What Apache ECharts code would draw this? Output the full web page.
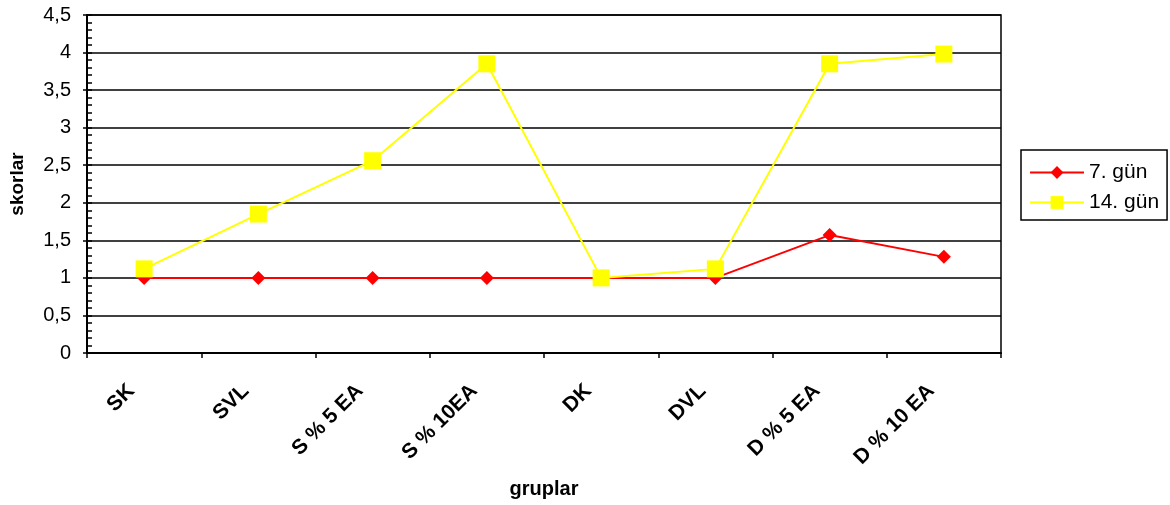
<!DOCTYPE html>
<html><head><meta charset="utf-8">
<script src="https://cdn.jsdelivr.net/npm/echarts@6/dist/echarts.min.js"></script>
<style>html,body{margin:0;padding:0;background:#fff}#c{width:1170px;height:505px}</style>
</head><body><div id="c"></div>
<script>
const categories = ['SK','SVL','S % 5 EA','S % 10EA','DK','DVL','D % 5 EA','D % 10 EA'];
const gun7 = [1, 1, 1, 1, 1, 1, 1.57, 1.28];
const gun14 = [1.12, 1.85, 2.56, 3.85, 1.0, 1.12, 3.85, 3.98];
const seriesNames = ['7. gün', '14. gün'];
const FONT = '"Liberation Sans", Arial, sans-serif';

const chart = echarts.init(document.getElementById('c'), null, {renderer:'canvas'});
const yBase = {type:'value', min:0, max:4.5, interval:0.5};
chart.setOption({
  animation:false,
  textStyle:{fontFamily:FONT, color:'#000'},
  grid:{left:87, right:169, top:15, bottom:152, show:true, borderColor:'#000', borderWidth:1.5, backgroundColor:'transparent'},
  legend:{
    orient:'vertical', left:1021, top:150,
    data:seriesNames,
    borderColor:'#000', borderWidth:1.5, padding:[12,8,7,8],
    itemWidth:54, itemHeight:16, itemGap:9,
    textStyle:{fontFamily:FONT, fontSize:21, color:'#000'}
  },
  xAxis:{
    type:'category', data:categories, boundaryGap:true,
    axisLine:{lineStyle:{color:'#000', width:2}},
    axisTick:{show:true, length:5, lineStyle:{color:'#000', width:1.5}},
    axisLabel:{rotate:45, margin:22, padding:[0,18,0,0], fontFamily:FONT, fontSize:21, fontWeight:'bold', color:'#000', interval:0},
    name:'gruplar', nameLocation:'middle', nameGap:126,
    nameTextStyle:{fontFamily:FONT, fontSize:20, fontWeight:'bold', color:'#000'}
  },
  yAxis:[
    Object.assign({}, yBase, {
      axisLine:{show:true, lineStyle:{color:'#000', width:2}},
      axisTick:{show:true, inside:true, length:5, lineStyle:{color:'#000', width:1.5}},
      minorTick:{show:true, splitNumber:5, length:5, lineStyle:{color:'#000', width:1.5}},
      splitLine:{show:true, lineStyle:{color:'#000', width:1.5}},
      axisLabel:{margin:16, fontFamily:FONT, fontSize:20, color:'#000', formatter:v=>String(v).replace('.',',')},
      name:'skorlar', nameLocation:'middle', nameGap:60, nameRotate:90,
      nameTextStyle:{fontFamily:FONT, fontSize:19, fontWeight:'bold', color:'#000'}
    }),
    Object.assign({}, yBase, {
      position:'left', offset:0,
      axisLine:{show:false},
      axisTick:{show:true, inside:false, length:4, lineStyle:{color:'#000', width:1.5}},
      axisLabel:{show:false}, splitLine:{show:false}
    })
  ],
  series:[
    {name:seriesNames[0], type:'line', data:gun7, symbol:'diamond', symbolSize:14,
     lineStyle:{color:'#FF0000', width:2}, itemStyle:{color:'#FF0000'}, z:3},
    {name:seriesNames[1], type:'line', data:gun14, symbol:'rect', symbolSize:17,
     lineStyle:{color:'#FFFF00', width:2}, itemStyle:{color:'#FFFF00'}, z:4}
  ]
});
</script></body></html>
